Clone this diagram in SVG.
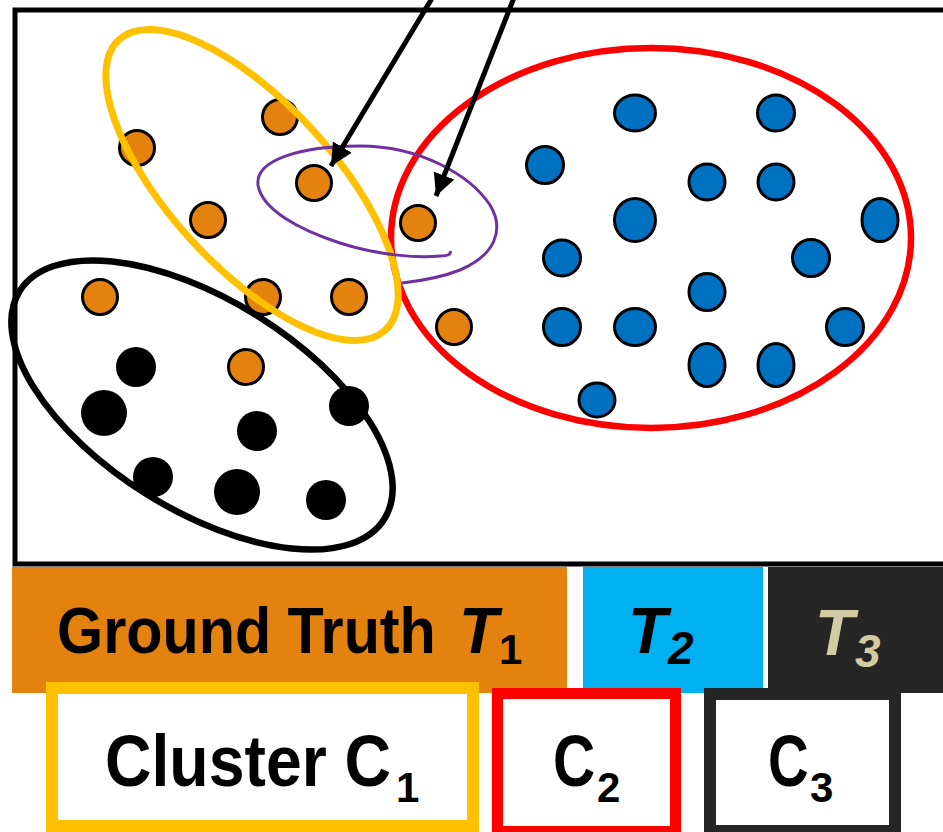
<svg xmlns="http://www.w3.org/2000/svg" width="943" height="832" viewBox="0 0 943 832">
<defs>
<style>
.o{fill:#E4820F;stroke:#000;stroke-width:3}
.b{fill:#0070C0;stroke:#000;stroke-width:3}
.k{fill:#000}
.cl{fill:none}
.t{font-family:"Liberation Sans",Arial,sans-serif;font-weight:bold;fill:#000}
.it{font-style:italic}
.beige{fill:#D2CCA4}
.arrow{stroke:#000;stroke-width:5;fill:none}
</style>
<marker id="ah" markerUnits="userSpaceOnUse" markerWidth="26" markerHeight="24" refX="22" refY="11" orient="auto">
<path d="M0,0 L22,11 L0,22 Z" fill="#000"/>
</marker>
</defs>
<rect width="943" height="832" fill="#fff"/>
<g id="frame"><rect x="15" y="10" width="945" height="554" fill="#fff" stroke="#000" stroke-width="5"/></g>

<g id="points">
<circle class="o" cx="280" cy="117" r="17.5"/>
<circle class="o" cx="137" cy="148" r="17.5"/>
<circle class="o" cx="314" cy="183" r="17.5"/>
<circle class="o" cx="208" cy="220" r="17.5"/>
<circle class="o" cx="418" cy="223" r="17.5"/>
<circle class="o" cx="100" cy="297" r="17.5"/>
<circle class="o" cx="263" cy="297" r="17.5"/>
<circle class="o" cx="349" cy="297" r="17.5"/>
<circle class="o" cx="246" cy="367" r="17.5"/>
<circle class="o" cx="454" cy="327" r="17.5"/>
<ellipse class="b" cx="635" cy="113" rx="20.5" ry="18"/>
<ellipse class="b" cx="776" cy="113" rx="18.5" ry="18"/>
<ellipse class="b" cx="545" cy="165" rx="18.5" ry="18.5"/>
<ellipse class="b" cx="707" cy="182" rx="18" ry="18"/>
<ellipse class="b" cx="776" cy="182" rx="18" ry="18"/>
<ellipse class="b" cx="635" cy="220" rx="20.5" ry="21.5"/>
<ellipse class="b" cx="880" cy="220" rx="18" ry="21.5"/>
<ellipse class="b" cx="562" cy="258" rx="18.5" ry="18"/>
<ellipse class="b" cx="811" cy="258" rx="18.5" ry="18.5"/>
<ellipse class="b" cx="707" cy="292" rx="18" ry="18.5"/>
<ellipse class="b" cx="562" cy="327" rx="18.5" ry="18.5"/>
<ellipse class="b" cx="635" cy="327" rx="20.5" ry="18.5"/>
<ellipse class="b" cx="845" cy="327" rx="18.5" ry="18.5"/>
<ellipse class="b" cx="707" cy="365" rx="18" ry="21.5"/>
<ellipse class="b" cx="776" cy="365" rx="18" ry="21.5"/>
<ellipse class="b" cx="597" cy="400" rx="18" ry="17"/>
<circle class="k" cx="136" cy="367" r="20"/>
<circle class="k" cx="104" cy="413" r="23"/>
<circle class="k" cx="257" cy="431" r="20"/>
<circle class="k" cx="349" cy="406" r="20"/>
<circle class="k" cx="153" cy="477" r="20"/>
<circle class="k" cx="237" cy="492" r="23"/>
<circle class="k" cx="326" cy="500" r="20"/>
</g>

<g id="clusters">
<ellipse id="cluster-C2" class="cl" cx="651" cy="238" rx="260" ry="190" stroke="#FF0000" stroke-width="6.5"/>
<ellipse id="cluster-C1" class="cl" cx="252" cy="185" rx="197" ry="82" transform="rotate(47.5 252 185)" stroke="#FFC000" stroke-width="7"/>
<ellipse id="cluster-C3" class="cl" cx="202" cy="405" rx="215" ry="105" transform="rotate(32 202 405)" stroke="#000" stroke-width="6.5"/>
</g>

<g id="highlight">
<path d="M450 251 Q452 256 440 256 C420 258 380 256 340 243 C300 230 262 210 258 185 C255 160 300 146 360 146 C420 146 470 175 490 205 C505 230 495 255 460 270 C440 278 420 281 402 283" fill="none" stroke="#7030A0" stroke-width="3"/>
</g>

<g id="connectors">
<line class="arrow" x1="437" y1="-10" x2="331" y2="166" marker-end="url(#ah)"/>
<line class="arrow" x1="517" y1="-10" x2="436" y2="196" marker-end="url(#ah)"/>
</g>

<g id="legend-T1">
<rect x="12" y="567" width="555" height="126" fill="#E4820F"/>
<text class="t" font-size="64" transform="translate(57 653) scale(0.927 1)">Ground Truth</text>
<text class="t it" x="459" y="653" font-size="64">T</text>
<text class="t" x="499" y="664" font-size="42">1</text>
</g>
<g id="legend-T2">
<rect x="583" y="567" width="180" height="126" fill="#00B0F0"/>
<text class="t it" x="628" y="653" font-size="64">T</text>
<text class="t it" x="668" y="664" font-size="46">2</text>
</g>
<g id="legend-T3">
<rect x="768" y="567" width="180" height="126" fill="#262626"/>
<text class="t it beige" x="815" y="655" font-size="64">T</text>
<text class="t it beige" x="855" y="667" font-size="46">3</text>
</g>

<g id="legend-C1">
<rect x="52" y="688" width="421" height="138" fill="#fff" stroke="#FFC000" stroke-width="12"/>
<text class="t" font-size="72" transform="translate(105 786) scale(0.894 1)">Cluster C</text>
<text class="t" x="396" y="802" font-size="42">1</text>
</g>
<g id="legend-C2">
<rect x="497.5" y="693.5" width="178" height="138" fill="#fff" stroke="#FF0000" stroke-width="11"/>
<text class="t" font-size="72" transform="translate(553 786) scale(0.81 1)">C</text>
<text class="t" x="597" y="802" font-size="42">2</text>
</g>
<g id="legend-C3">
<rect x="710" y="694" width="185" height="137" fill="#fff" stroke="#262626" stroke-width="12"/>
<text class="t" font-size="72" transform="translate(768 786) scale(0.78 1)">C</text>
<text class="t" x="810" y="802" font-size="42">3</text>
</g>
</svg>
